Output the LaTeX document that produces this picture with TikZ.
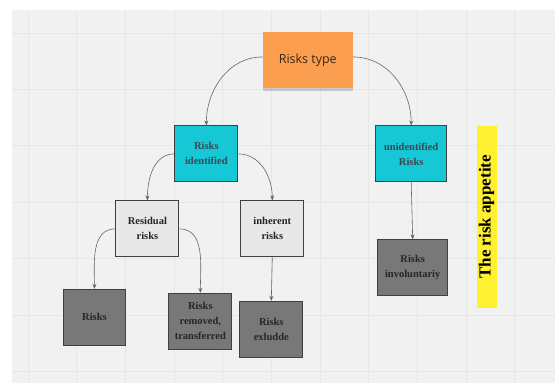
\documentclass[tikz,border=0pt]{standalone}
\usepackage{fontspec}
\setmainfont{Liberation Serif}
\newfontfamily\notesans{Open Sans}
\usepackage{tikz}
\usetikzlibrary{arrows.meta,shadows}

\definecolor{boardgray}{RGB}{241,241,241}
\definecolor{gridgray}{RGB}{230,230,230}
\definecolor{noteorange}{RGB}{251,158,80}
\definecolor{notecyan}{RGB}{22,200,214}
\definecolor{notelight}{RGB}{232,232,232}
\definecolor{notedark}{RGB}{120,120,120}
\definecolor{noteyellow}{RGB}{255,240,50}

\tikzset{
  card/.style={draw=black!75, line width=0.9pt, minimum width=63pt, minimum height=56pt,
    align=center, font=\fontsize{10.5}{15}\selectfont\bfseries, inner sep=2pt},
  cyancard/.style={card, fill=notecyan, text=black!80!cyan},
  lightcard/.style={card, fill=notelight, text=black!85},
  darkcard/.style={card, fill=notedark, text=black!85},
  link/.style={draw=black!60, line width=0.6pt, -{Stealth[length=5pt,width=4pt]}}
}

\begin{document}
\begin{tikzpicture}[x=1pt,y=-1pt]
			%%%%% START %%%%%
			
			\fill[white] (0, 0) rectangle (555, 383);
			\fill[boardgray] (12, 10) rectangle (555, 383);
			\foreach \gx in {28, 76.7, ..., 555}
				\draw[gridgray, line width=0.8pt] (\gx, 10) -- (\gx, 383);
			\foreach \gy in {33, 89.5, ..., 383}
				\draw[gridgray, line width=0.8pt] (12, \gy) -- (555, \gy);
			
			\node[fill=noteorange, minimum width=90pt, minimum height=56pt,
				drop shadow={shadow xshift=0pt, shadow yshift=-3pt, opacity=0.35},
				font=\notesans\fontsize{12.5}{15}\selectfont, text=black!70!brown] (type) at (308, 60) {Risks type};
			
			\node[cyancard] (ident) at (206.5, 154) {Risks\\identified};
			\node[cyancard, minimum width=71pt] (unident) at (411.5, 154) {unidentified\\Risks};
			
			\node[lightcard] (resid) at (147.5, 229) {Residual\\risks};
			\node[lightcard] (inher) at (272.5, 229) {inherent\\risks};
			
			\node[darkcard] (risks) at (94.5, 317.5) {Risks};
			\node[darkcard] (removed) at (200.5, 321.5) {Risks\\removed,\\transferred};
			\node[darkcard] (exclu) at (271.5, 329.5) {Risks\\exludde};
			\node[darkcard, minimum width=70pt] (invol) at (413, 268) {Risks\\involuntariy};
			
			\node[fill=noteyellow, minimum width=20pt, minimum height=182pt, inner sep=0pt] (appetite) at (487, 217) {};
			\node[rotate=90, font=\fontsize{17}{17}\selectfont\bfseries] at (appetite.center) {The risk appetite};
			
			\draw[link] ([yshift=3]type.west) to[out=180, in=90] (ident.north);
			\draw[link] ([yshift=3]type.east) to[out=0, in=90] (unident.north);
			\draw[link] (ident.west) to[out=180, in=90] (resid.north);
			\draw[link] (ident.east) to[out=0, in=90] (inher.north);
			\draw[link] (resid.west) to[out=180, in=90] (risks.north);
			\draw[link] (resid.east) to[out=0, in=90] (removed.north);
			\draw[link] (inher.south) -- (exclu.north);
			\draw[link] (unident.south) -- (invol.north);
			
			%%%%% END %%%%%
		\end{tikzpicture}
\end{document}
